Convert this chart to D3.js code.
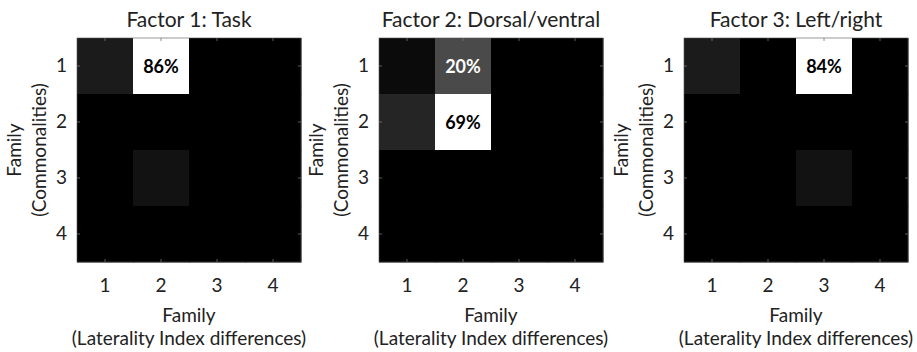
<!DOCTYPE html>
<html>
<head>
<meta charset="utf-8">
<script src="https://cdn.jsdelivr.net/npm/d3@7"></script>
<style>
  html, body { margin: 0; padding: 0; background: #fff; }
  text { font-family: Lato, "Open Sans", sans-serif; fill: #222; }
</style>
</head>
<body>
<svg id="chart" width="917" height="352"></svg>
<script>
// Family indices on both axes
const families = [1, 2, 3, 4];

// Panel titles
const titles = ["Factor 1: Task", "Factor 2: Dorsal/ventral", "Factor 3: Left/right"];

// Percentage of loading per (commonality family row, laterality family column)
const factor1 = [
  [9, 86, 0, 0],
  [0, 0, 0, 0],
  [0, 6, 0, 0],
  [0, 0, 0, 0]
];
const factor2 = [
  [3, 20, 0, 0],
  [10, 69, 0, 0],
  [0, 0, 0, 0],
  [0, 0, 0, 0]
];
const factor3 = [
  [9, 0, 84, 0],
  [0, 0, 0, 0],
  [0, 0, 6, 0],
  [0, 0, 0, 0]
];

const xTitle = ["Family", "(Laterality Index differences)"];
const yTitle = ["Family", "(Commonalities)"];

// Values at or above this are printed inside their cell
const labelThreshold = 15;

const panels = [factor1, factor2, factor3];
const panelLeft = [77, 379, 684];
const plotTop = 38;
const plotSize = 224;

const svg = d3.select("#chart");

panels.forEach((matrix, p) => {
  const left = panelLeft[p];
  const x = d3.scaleBand().domain(families).range([left, left + plotSize]);
  const y = d3.scaleBand().domain(families).range([plotTop, plotTop + plotSize]);
  const maxVal = d3.max(matrix.flat());
  const color = d3.scaleLinear().domain([0, maxVal]).range(["#000000", "#ffffff"]);

  const cells = [];
  matrix.forEach((row, i) => row.forEach((v, j) => cells.push({ r: families[i], c: families[j], v })));

  const g = svg.append("g");

  g.selectAll("rect.cell")
    .data(cells)
    .join("rect")
    .attr("class", "cell")
    .attr("x", d => x(d.c))
    .attr("y", d => y(d.r))
    .attr("width", x.bandwidth() + 0.5)
    .attr("height", y.bandwidth() + 0.5)
    .attr("fill", d => color(d.v));

  g.selectAll("text.val")
    .data(cells.filter(d => d.v >= labelThreshold))
    .join("text")
    .attr("class", "val")
    .attr("x", d => x(d.c) + x.bandwidth() / 2)
    .attr("y", d => y(d.r) + y.bandwidth() / 2 + 6.5)
    .attr("text-anchor", "middle")
    .style("font-weight", "bold")
    .style("font-size", "18px")
    .style("fill", d => d.v > maxVal / 2 ? "#000" : "#fff")
    .text(d => d.v + "%");

  // Axes with short inward ticks
  const styleAxis = sel => {
    sel.select(".domain").remove();
    sel.selectAll(".tick line").attr("stroke", "#777").attr("stroke-width", 0.8);
    sel.selectAll(".tick text").style("font-size", "19px").style("font-family", "Lato, sans-serif").attr("fill", "#222");
  };

  g.append("g")
    .attr("transform", `translate(0,${plotTop + plotSize})`)
    .call(d3.axisBottom(x).tickSize(-3).tickPadding(16.5))
    .call(styleAxis);
  g.append("g")
    .attr("transform", `translate(0,${plotTop})`)
    .call(d3.axisTop(x).tickSize(-3).tickFormat(""))
    .call(styleAxis);
  g.append("g")
    .attr("transform", `translate(${left},0)`)
    .call(d3.axisLeft(y).tickSize(-3).tickPadding(10))
    .call(styleAxis);
  g.append("g")
    .attr("transform", `translate(${left + plotSize},0)`)
    .call(d3.axisRight(y).tickSize(-3).tickFormat(""))
    .call(styleAxis);

  g.append("rect")
    .attr("x", left).attr("y", plotTop)
    .attr("width", plotSize).attr("height", plotSize)
    .attr("fill", "none")
    .attr("stroke", "#555")
    .attr("stroke-width", 0.6);

  const cx = left + plotSize / 2;

  g.append("text")
    .attr("x", cx).attr("y", 27)
    .attr("text-anchor", "middle")
    .style("font-size", "21px")
    .text(titles[p]);

  g.append("text")
    .attr("x", cx).attr("y", 322)
    .attr("text-anchor", "middle")
    .style("font-size", "19px")
    .text(xTitle[0]);
  g.append("text")
    .attr("x", cx).attr("y", 345)
    .attr("text-anchor", "middle")
    .style("font-size", "19px")
    .text(xTitle[1]);

  const cy = plotTop + plotSize / 2;
  g.append("text")
    .attr("transform", `translate(${left - 56},${cy}) rotate(-90)`)
    .attr("text-anchor", "middle")
    .style("font-size", "19px")
    .text(yTitle[0]);
  g.append("text")
    .attr("transform", `translate(${left - 31},${cy}) rotate(-90)`)
    .attr("text-anchor", "middle")
    .style("font-size", "19px")
    .text(yTitle[1]);
});
</script>
</body>
</html>
